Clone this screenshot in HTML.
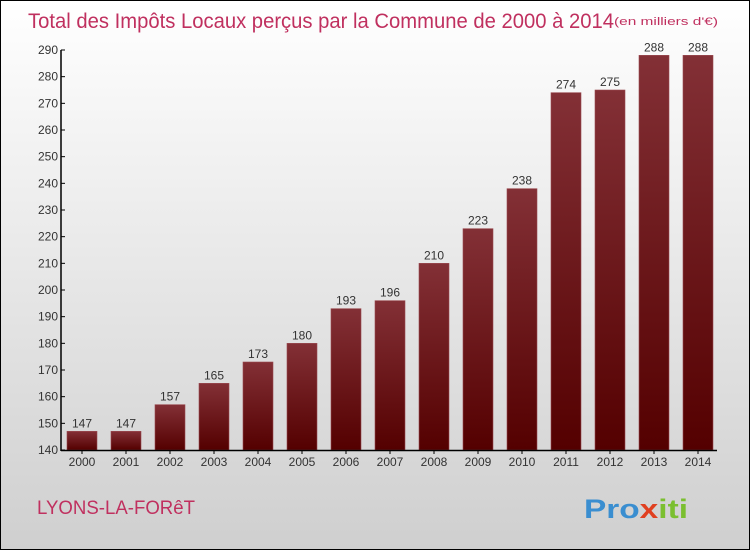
<!DOCTYPE html>
<html><head><meta charset="utf-8"><style>
body{margin:0}
#c{position:relative;width:748px;height:548px;border:1px solid #000;background:linear-gradient(#fff,#cfcfcf);font-family:"Liberation Sans",sans-serif;overflow:hidden}
</style></head><body>
<div id="c">
<svg width="748" height="548" id="s">
<defs><linearGradient id="g" x1="0" y1="0" x2="0" y2="1"><stop offset="0" stop-color="#833036"/><stop offset="1" stop-color="#540000"/></linearGradient></defs>
<text x="27" y="27" font-size="21" fill="#c0305f" textLength="586" lengthAdjust="spacingAndGlyphs">Total des Impôts Locaux perçus par la Commune de 2000 à 2014</text>
<text x="613" y="24" font-size="11" fill="#c0305f" textLength="104" lengthAdjust="spacingAndGlyphs">(en milliers d'€)</text>
<text x="36" y="513" font-size="19" fill="#c0305f" textLength="158" lengthAdjust="spacingAndGlyphs">LYONS-LA-FORêT</text>
<text x="583" y="517" font-size="27" font-weight="bold" fill="#3a8ed0" textLength="104" lengthAdjust="spacingAndGlyphs">Pro<tspan fill="#e04020">x</tspan><tspan fill="#7bbf30">iti</tspan></text>
</svg></div>
<script>
const years=["2000","2001","2002","2003","2004","2005","2006","2007","2008","2009","2010","2011","2012","2013","2014"];
const values=[147,147,157,165,173,180,193,196,210,223,238,274,275,288,288];
const ticks=[140,150,160,170,180,190,200,210,220,230,240,250,260,270,280,290];
const s=document.getElementById('s'),NS="http://www.w3.org/2000/svg";
const y=v=>449-(v-140)*(400/150), x=i=>81+i*44;
function mk(t,a,txt){const e=document.createElementNS(NS,t);for(const k in a)e.setAttribute(k,a[k]);if(txt!=null)e.textContent=txt;s.appendChild(e);return e;}
values.forEach((v,i)=>{
 const r=mk('rect',{x:x(i)-15,y:y(v),width:30,height:449-y(v),fill:'url(#g)',stroke:'#9a4a50','stroke-width':0.6});
 
 
 const t=mk('text',{x:x(i),y:y(v)-4,'font-size':12,fill:'#333','text-anchor':'middle'},v);
 
 
 const l=mk('text',{x:x(i),y:465,'font-size':12,fill:'#333','text-anchor':'middle'},years[i]);
 
 
 mk('line',{x1:x(i),x2:x(i),y1:449,y2:453,stroke:'#000'});
});
ticks.forEach(v=>{
 const t=mk('text',{x:57,y:y(v)+4,'font-size':12,fill:'#333','text-anchor':'end'},v);
 
 
 mk('line',{x1:60,x2:64,y1:y(v),y2:y(v),stroke:'#000'});
});
const ya=mk('line',{x1:60,x2:60,y1:y(290),y2:450,stroke:'#000','stroke-width':1.5});


const xa=mk('line',{x1:60,x2:716,y1:449.5,y2:449.5,stroke:'#000','stroke-width':1.5});


</script>
</body></html>
